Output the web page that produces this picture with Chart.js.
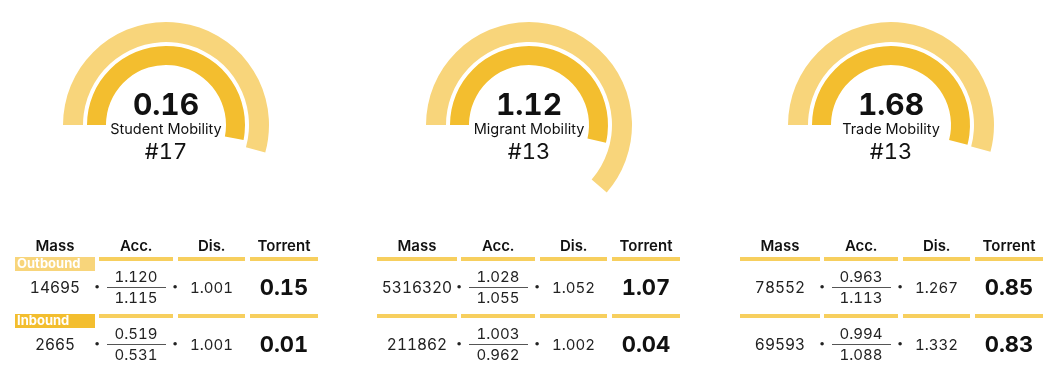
<!DOCTYPE html>
<html lang="en">
<head>
<meta charset="UTF-8">
<title>Mobility Gauges</title>
<script src="https://cdn.jsdelivr.net/npm/chart.js"></script>
<style>
	body { margin: 0; background: #fff; }
	#wrap { position: relative; width: 1048px; height: 376px; overflow: hidden; font-family: Inter, "Open Sans", sans-serif; color: #111; font-variant-numeric: tabular-nums; }
	#wrap canvas { position: absolute; top: 10px; }
	.t { position: absolute; line-height: 1; white-space: nowrap; }
	.c { text-align: center; width: 200px; }
	.bar { position: absolute; height: 4px; background: #F7CF5E; }
	.fline { position: absolute; height: 1px; background: #555; }
</style>
</head>
<body>
<div id="wrap"></div>

<script>
	// gauges
	const gaugeNames = ['Student Mobility', 'Migrant Mobility', 'Trade Mobility'];
	const gaugeScores = ['0.16', '1.12', '1.68'];
	const gaugeRanks = ['#17', '#13', '#13'];
	const outerSweep = [195.5, 221, 195];   // degrees out of 360
	const innerSweep = [191, 193, 194.5];

	// tables
	const columns = ['Mass', 'Acc.', 'Dis.', 'Torrent'];
	const rowLabels = ['Outbound', 'Inbound'];
	const massOut = ['14695', '5316320', '78552'];
	const accOutNum = ['1.120', '1.028', '0.963'];
	const accOutDen = ['1.115', '1.055', '1.113'];
	const disOut = ['1.001', '1.052', '1.267'];
	const torrentOut = ['0.15', '1.07', '0.85'];
	const massIn = ['2665', '211862', '69593'];
	const accInNum = ['0.519', '1.003', '0.994'];
	const accInDen = ['0.531', '0.962', '1.088'];
	const disIn = ['1.001', '1.002', '1.332'];
	const torrentIn = ['0.01', '0.04', '0.83'];

	const LIGHT = '#F8D57B';
	const DARK = '#F3BE2F';
	const NONE = 'rgba(0,0,0,0)';

	const wrap = document.getElementById('wrap');

	// place text so its baseline sits at y (Inter: baseline ~ 0.864em below top at line-height 1)
	function txt(s, x, y, size, weight, center, color) {
		const d = document.createElement('div');
		d.className = 't' + (center ? ' c' : '');
		d.textContent = s;
		d.style.fontSize = size + 'px';
		d.style.fontWeight = weight;
		d.style.top = (y - 0.864 * size) + 'px';
		d.style.left = (center ? x - 100 : x) + 'px';
		if (color) d.style.color = color;
		wrap.appendChild(d);
		return d;
	}

	function box(cls, x, y, w, h, bg) {
		const d = document.createElement('div');
		d.className = cls;
		d.style.left = x + 'px';
		d.style.top = y + 'px';
		d.style.width = w + 'px';
		if (h) d.style.height = h + 'px';
		if (bg) d.style.background = bg;
		wrap.appendChild(d);
		return d;
	}

	const gaugeX = [166, 529, 891];
	const tableX = [15, 377, 740];
	// column spans relative to table left
	const colL = [0, 84, 163, 235];
	const colW = [80, 74, 67, 68];

	for (let i = 0; i < 3; i++) {
		const cv = document.createElement('canvas');
		cv.width = 230;
		cv.height = 230;
		cv.style.left = (gaugeX[i] - 115) + 'px';
		wrap.appendChild(cv);

		new Chart(cv, {
			type: 'doughnut',
			data: {
				labels: ['value', 'rest'],
				datasets: [
					{ data: [outerSweep[i], 360 - outerSweep[i]], backgroundColor: [LIGHT, NONE], borderWidth: 0, weight: 20 },
					{ data: [360], backgroundColor: [NONE], borderWidth: 0, weight: 4 },
					{ data: [innerSweep[i], 360 - innerSweep[i]], backgroundColor: [DARK, NONE], borderWidth: 0, weight: 19 }
				]
			},
			options: {
				responsive: false,
				animation: false,
				events: [],
				rotation: -90,
				circumference: 360,
				radius: 103,
				cutout: (60 / 103 * 100) + '%',
				layout: { padding: 0 },
				plugins: { legend: { display: false }, tooltip: { enabled: false } }
			}
		});

		const cx = gaugeX[i];
		txt(gaugeScores[i], cx, 115, 30, 700, true);
		txt(gaugeNames[i], cx, 135, 14.5, 400, true);
		txt(gaugeRanks[i], cx, 159, 22, 400, true);

		// table
		const x0 = tableX[i];
		const mid = k => x0 + colL[k] + colW[k] / 2;
		columns.forEach((c, k) => txt(c, mid(k), 251, 15, 600, true));

		const rows = [
			{ mass: massOut, num: accOutNum, den: accOutDen, dis: disOut, tor: torrentOut, y: 0 },
			{ mass: massIn, num: accInNum, den: accInDen, dis: disIn, tor: torrentIn, y: 57 }
		];
		rows.forEach((r, ri) => {
			const dy = r.y;
			for (let k = 0; k < 4; k++) {
				if (k === 0 && i === 0) continue;
				box('bar', x0 + colL[k], 257 + dy, colW[k]);
			}
			if (i === 0) {
				box('bar', x0, 257 + dy, 80, 14, ri === 0 ? LIGHT : DARK);
				txt(rowLabels[ri], x0 + 2, 268 + dy, 13, 700, false, '#fff');
			}
			txt(r.mass[i], mid(0), 293 + dy, 15.5, 400, true, '#222');
			txt('•', x0 + 82, 291 + dy, 11, 400, true, '#222');
			txt(r.num[i], mid(1), 282 + dy, 15, 400, true, '#222');
			box('fline', x0 + colL[1] + 8, 287 + dy, 59);
			txt(r.den[i], mid(1), 303 + dy, 15, 400, true, '#222');
			txt('•', x0 + 160, 291 + dy, 11, 400, true, '#222');
			txt(r.dis[i], mid(2), 293 + dy, 15, 400, true, '#222');
			txt(r.tor[i], mid(3), 295 + dy, 22, 700, true);
		});
	}
</script>
</body>
</html>
